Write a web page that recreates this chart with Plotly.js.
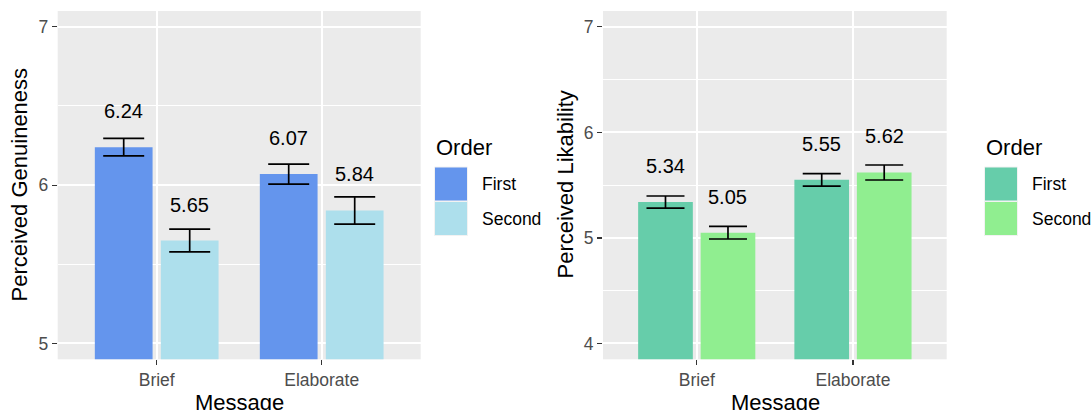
<!DOCTYPE html>
<html>
<head>
<meta charset="utf-8">
<script src="https://cdn.plot.ly/plotly-3.0.1.min.js"></script>
<style>html,body{margin:0;padding:0;background:#fff;}#chart{width:1091px;height:410px;}</style>
</head>
<body>
<div id="chart"></div>
<script>
// ---- data ----
const messages = ["Brief", "Elaborate"];
const orders = ["First", "Second"];
const genuinenessFirst = [6.24, 6.07];
const genuinenessSecond = [5.65, 5.84];
const genuinenessFirstSE = [0.055, 0.063];
const genuinenessSecondSE = [0.072, 0.086];
const likabilityFirst = [5.34, 5.55];
const likabilitySecond = [5.05, 5.62];
const likabilityFirstSE = [0.057, 0.059];
const likabilitySecondSE = [0.06, 0.071];
const leftTicks = [5, 6, 7];
const rightTicks = [4, 5, 6, 7];

// ---- style ----
const FONT = "Liberation Sans, Arial, Helvetica, sans-serif";
const leftColors = ["#6495ED", "#ADDFEC"];
const rightColors = ["#66CDAA", "#90EE90"];
const W = 1091, H = 410;
const px = v => v / W;
const py = v => (H - v) / H;

function barTrace(y, se, color, name, xa, ya, capw) {
  return {
    type: "bar", x: messages, y: y, name: name, xaxis: xa, yaxis: ya,
    marker: {color: color, line: {width: 0}},
    error_y: {type: "data", array: se, visible: true, color: "#000", thickness: 1.7, width: capw},
    showlegend: false, hoverinfo: "skip"
  };
}

const data = [
  barTrace(genuinenessFirst, genuinenessFirstSE, leftColors[0], orders[0], "x", "y", 20.5),
  barTrace(genuinenessSecond, genuinenessSecondSE, leftColors[1], orders[1], "x", "y", 20.5),
  barTrace(likabilityFirst, likabilityFirstSE, rightColors[0], orders[0], "x2", "y2", 19),
  barTrace(likabilitySecond, likabilitySecondSE, rightColors[1], orders[1], "x2", "y2", 19)
];

const annotations = [];
function labels(vals, xa, ya, shiftX) {
  vals.forEach((v, i) => {
    annotations.push({
      x: messages[i], y: v, xref: xa, yref: ya, text: v.toFixed(2), showarrow: false,
      xshift: shiftX, yshift: 36, yanchor: "middle", xanchor: "center",
      font: {family: FONT, size: 20, color: "#000"}
    });
  });
}
labels(genuinenessFirst, "x", "y", -33);
labels(genuinenessSecond, "x", "y", 33);
labels(likabilityFirst, "x2", "y2", -31.2);
labels(likabilitySecond, "x2", "y2", 31.2);

// axis titles
annotations.push({x: px(19.5), y: py(185), xref: "paper", yref: "paper", text: "Perceived Genuineness",
  textangle: -90, showarrow: false, xanchor: "center", yanchor: "middle", font: {family: FONT, size: 22, color: "#000"}});
annotations.push({x: px(565.5), y: py(185), xref: "paper", yref: "paper", text: "Perceived Likability",
  textangle: -90, showarrow: false, xanchor: "center", yanchor: "middle", font: {family: FONT, size: 22, color: "#000"}});
annotations.push({x: px(239), y: py(388), xref: "paper", yref: "paper", text: "Message",
  showarrow: false, xanchor: "center", yanchor: "top", font: {family: FONT, size: 22, color: "#000"}});
annotations.push({x: px(775), y: py(388), xref: "paper", yref: "paper", text: "Message",
  showarrow: false, xanchor: "center", yanchor: "top", font: {family: FONT, size: 22, color: "#000"}});

// manual legends
const shapes = [];
function legend(x0, colors) {
  annotations.push({x: px(x0 - 1), y: py(147), xref: "paper", yref: "paper", text: "Order", showarrow: false,
    xanchor: "left", yanchor: "middle", font: {family: FONT, size: 22, color: "#000"}});
  const tops = [167, 201.5];
  orders.forEach((o, i) => {
    shapes.push({type: "rect", xref: "paper", yref: "paper", x0: px(x0), x1: px(x0 + 33),
      y0: py(tops[i]), y1: py(tops[i] + 34), fillcolor: colors[i], line: {color: "#F2F2F2", width: 1}});
    annotations.push({x: px(x0 + 45), y: py(tops[i] + 17.5), xref: "paper", yref: "paper", text: o, showarrow: false,
      xanchor: "left", yanchor: "middle", font: {family: FONT, size: 17.5, color: "#000"}});
  });
}
legend(434.5, leftColors);
legend(984.5, rightColors);

function xaxis(domain) {
  return {domain: domain, type: "category", range: [-0.6, 1.6], showgrid: true, gridcolor: "#fff", gridwidth: 2,
    ticks: "outside", ticklen: 4.5, tickwidth: 1.2, tickcolor: "#333", showline: false, zeroline: false,
    tickfont: {family: FONT, size: 17.5, color: "#4D4D4D"}, fixedrange: true};
}
function yaxis(domain, range, ticks, anchor) {
  return {domain: domain, range: range, tickvals: ticks, ticktext: ticks.map(String), anchor: anchor,
    showgrid: true, gridcolor: "#fff", gridwidth: 2, zeroline: false, showline: false,
    ticks: "outside", ticklen: 5, tickwidth: 1.2, tickcolor: "#333",
    minor: {dtick: 0.5, tick0: 0, showgrid: true, gridcolor: "#fff", gridwidth: 1, ticks: ""},
    tickfont: {family: FONT, size: 17.5, color: "#4D4D4D"}, fixedrange: true};
}

const yDom = [py(359.3), py(11)];
const layout = {
  width: W, height: H,
  margin: {l: 0, r: 0, t: 0, b: 0},
  paper_bgcolor: "#fff", plot_bgcolor: "#EBEBEB",
  barmode: "group", bargap: 0.2, bargroupgap: 0.125,
  showlegend: false,
  xaxis: Object.assign(xaxis([px(57.7), px(420.7)]), {anchor: "y"}),
  yaxis: yaxis(yDom, [4.9, 7.1], leftTicks, "x"),
  xaxis2: Object.assign(xaxis([px(603), px(946.7)]), {anchor: "y2"}),
  yaxis2: yaxis(yDom, [3.85, 7.15], rightTicks, "x2"),
  annotations: annotations,
  shapes: shapes,
  font: {family: FONT}
};

Plotly.newPlot("chart", data, layout, {displayModeBar: false, staticPlot: true});
</script>
</body>
</html>
